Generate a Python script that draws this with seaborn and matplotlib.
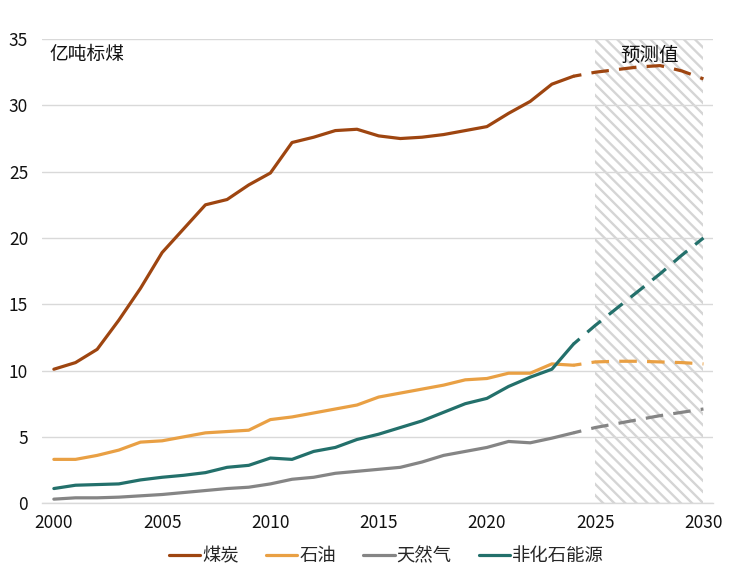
"""China primary energy consumption by source, 2000-2030 (history + projection)."""

import matplotlib.pyplot as plt
import matplotlib.lines as mlines
import seaborn as sns
import pandas as pd

sns.set_style("white")
plt.rcParams['font.family'] = ['Noto Sans CJK SC', 'DejaVu Sans']
plt.rcParams['hatch.linewidth'] = 1.7
plt.rcParams['hatch.color'] = '#d5d5d5'

# Data (亿吨标煤)
years_hist = list(range(2000, 2025))
coal_hist = [10.1, 10.6, 11.6, 13.8, 16.2, 18.9, 20.7, 22.5, 22.9, 24.0, 24.9, 27.2, 27.6,
             28.1, 28.2, 27.7, 27.5, 27.6, 27.8, 28.1, 28.4, 29.4, 30.3, 31.6, 32.2]
oil_hist = [3.3, 3.3, 3.6, 4.0, 4.6, 4.7, 5.0, 5.3, 5.4, 5.5, 6.3, 6.5, 6.8,
            7.1, 7.4, 8.0, 8.3, 8.6, 8.9, 9.3, 9.4, 9.8, 9.8, 10.5, 10.4]
gas_hist = [0.3, 0.4, 0.4, 0.45, 0.55, 0.65, 0.8, 0.95, 1.1, 1.2, 1.45, 1.8, 1.95,
            2.25, 2.4, 2.55, 2.7, 3.1, 3.6, 3.9, 4.2, 4.65, 4.55, 4.9, 5.3]
nonfossil_hist = [1.1, 1.35, 1.4, 1.45, 1.75, 1.95, 2.1, 2.3, 2.7, 2.85, 3.4, 3.3, 3.9,
                  4.2, 4.8, 5.2, 5.7, 6.2, 6.85, 7.5, 7.9, 8.8, 9.5, 10.1, 12.0]

years_proj = list(range(2024, 2031))
coal_proj = [32.2, 32.5, 32.7, 32.9, 33.0, 32.6, 32.0]
oil_proj = [10.4, 10.65, 10.7, 10.7, 10.65, 10.6, 10.5]
gas_proj = [5.3, 5.7, 6.0, 6.3, 6.6, 6.85, 7.1]
nonfossil_proj = [12.0, 13.4, 14.7, 16.0, 17.3, 18.7, 20.0]

sources = ['煤炭', '石油', '天然气', '非化石能源']
colors = ['#9E4510', '#E9A044', '#858585', '#23706B']
palette = dict(zip(sources, colors))


def to_long(years, series):
    frames = []
    for name, vals in zip(sources, series):
        frames.append(pd.DataFrame({'year': years, 'value': vals, 'source': name}))
    return pd.concat(frames, ignore_index=True)


hist = to_long(years_hist, [coal_hist, oil_hist, gas_hist, nonfossil_hist])
proj = to_long(years_proj, [coal_proj, oil_proj, gas_proj, nonfossil_proj])

fig = plt.figure(figsize=(7.36, 5.75), dpi=100)
ax = fig.add_axes([0.057, 0.125, 0.912, 0.807])

# projection band
ax.axvspan(2025, 2030, facecolor='white', edgecolor='#d5d5d5', hatch='\\\\\\',
           linewidth=0, zorder=0)

sns.lineplot(data=hist, x='year', y='value', hue='source', palette=palette,
             linewidth=2.3, legend=False, ax=ax, zorder=3)
sns.lineplot(data=proj, x='year', y='value', hue='source', palette=palette,
             linewidth=2.3, linestyle=(3, (5.5, 3.2)), legend=False, ax=ax, zorder=3)

ax.set_xlim(1999.45, 2030.45)
ax.set_ylim(0, 35)
ax.set_xticks(range(2000, 2031, 5))
ax.set_yticks(range(0, 36, 5))
ax.set_xlabel('')
ax.set_ylabel('')
ax.tick_params(axis='both', labelsize=12.5, length=0, colors='#111111')
ax.tick_params(axis='x', pad=8)
ax.tick_params(axis='y', pad=10)
ax.yaxis.grid(True, color='#d9d9d9', linewidth=1)
ax.set_axisbelow(True)
for side in ['left', 'right', 'top']:
    ax.spines[side].set_visible(False)
ax.spines['bottom'].set_color('#d9d9d9')
ax.spines['bottom'].set_linewidth(1)

ax.text(0.011, 0.966, '亿吨标煤', transform=ax.transAxes, fontsize=13.5,
        ha='left', va='center', color='#111111')
ax.text(2027.5, 33.8, '预测值', fontsize=14, ha='center', va='center', color='#111111')

handles = [mlines.Line2D([], [], color=c, linewidth=2.3) for c in colors]
fig.legend(handles, sources, loc='center', bbox_to_anchor=(0.525, 0.033), ncol=4,
           frameon=False, fontsize=13.2, handlelength=1.7, handletextpad=0.1,
           columnspacing=1.5)

plt.savefig('out.png', dpi=100)
